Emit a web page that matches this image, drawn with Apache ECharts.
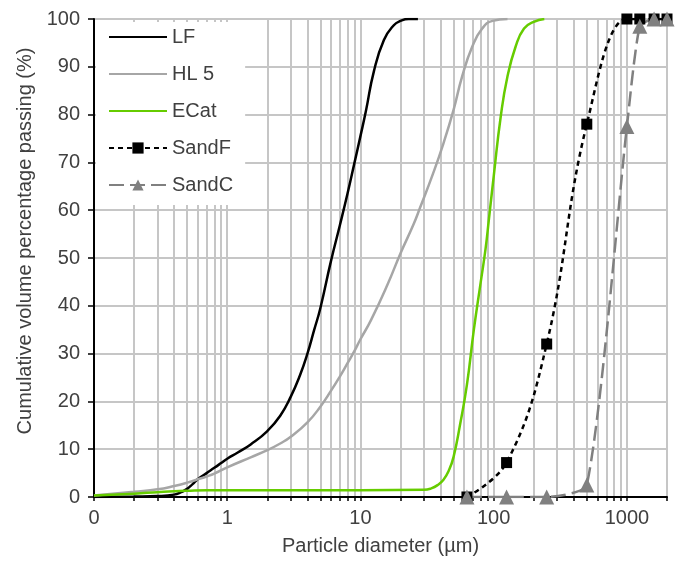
<!DOCTYPE html>
<html>
<head>
<meta charset="utf-8">
<script src="https://cdn.jsdelivr.net/npm/echarts@6/dist/echarts.min.js"></script>
<style>
html,body{margin:0;padding:0;background:#fff;}
#chart{width:678px;height:564px;}
</style>
</head>
<body>
<div id="chart"></div>
<script>
// ---- data ----
const lfX = [0.1,0.2,0.3,0.4,0.45,0.5,0.55,0.6,0.7,0.8,0.9,1,1.2,1.5,2,2.5,3,3.5,4,4.5,5,6,7,8,9,10,11,12.6,15,17.8,20,23,27];
const lfY = [0,0.1,0.2,0.5,1.0,1.7,2.7,3.7,5.0,6.1,7.1,8.0,9.3,11,13.8,17,21,25.3,30,35,39.5,49.3,56.8,63.5,69.8,75.5,80.8,89,95.6,98.7,99.6,100,100];

const hlX = [0.1,0.2,0.3,0.4,0.5,0.6,0.7,0.8,1,1.5,2,2.5,3,4,5,6,7,8,9,10,12,16,20,25,28,35,42,50,58,69,82,98,127];
const hlY = [0.3,1.1,1.6,2.3,3.0,3.7,4.3,4.9,6.2,8.3,9.8,11.2,12.6,15.6,18.9,22.2,25.2,28,30.5,33,37,44.5,51,57,60.5,67.6,74,81,88,94.2,98,99.6,100];

const ecX = [0.1,0.2,0.3,0.4,0.5,0.7,1,3,10,30,34,38,42,46,50,56,63,71,80,87,92,100,113,127,146,169,200,240];
const ecY = [0.3,0.7,1.0,1.2,1.3,1.4,1.4,1.4,1.4,1.5,1.8,2.5,3.6,5.5,8.4,15.2,23.5,35,45,52,58,67,79.6,88,94.2,98,99.4,100];

const sieveX = [63,125,250,500,1000,1250,1600,2000];
const sandFY = [0,7.2,32,78,100,100,100,100];
const sandCY = [0,0,0,2.5,77.5,98.5,100,100];

const seriesNames = ['LF','HL 5','ECat','SandF','SandC'];
const xMajorLabels = [0.1,1,10,100,1000];

// gridline / tick positions on the log axis (1..9 x 10^k within range)
const xGridVals = [];
for (let e = -1; e <= 3; e++) {
  for (let m = 1; m <= 9; m++) {
    const v = +(m * Math.pow(10, e)).toPrecision(3);
    if (v >= 0.1 && v <= 2000) xGridVals.push(v);
  }
}

const zip = (xs, ys) => xs.map((x, i) => [x, ys[i]]);
const txt = '#404040';
const font = 'Liberation Sans, Arial, sans-serif';
const noSym = { opacity: 0 };

const chart = echarts.init(document.getElementById('chart'));
chart.setOption({
  animation: false,
  backgroundColor: '#ffffff',
  textStyle: { fontFamily: font },
  grid: { left: 94, right: 11, top: 19, bottom: 67 },
  legend: {
    data: [
      { name: seriesNames[0], itemStyle: noSym },
      { name: seriesNames[1], itemStyle: noSym },
      { name: seriesNames[2], itemStyle: noSym },
      { name: seriesNames[3] },
      { name: seriesNames[4] }
    ],
    orient: 'vertical',
    left: 96, top: 22,
    padding: [5, 12, 10, 12],
    itemGap: 17,
    itemWidth: 58,
    itemHeight: 14,
    backgroundColor: '#ffffff',
    textStyle: { fontSize: 20, color: txt, fontFamily: font },
    selectedMode: false
  },
  xAxis: {
    type: 'log',
    logBase: 10,
    min: 0.1, max: 2000,
    name: 'Particle diameter (µm)',
    nameLocation: 'middle',
    nameGap: 39,
    nameTextStyle: { fontSize: 20, color: txt, fontFamily: font },
    axisLine: { show: true, onZero: false, lineStyle: { color: '#000', width: 2 } },
    axisTick: { show: true, inside: false, length: 4, customValues: xGridVals, lineStyle: { color: '#000', width: 1.5 } },
    axisLabel: {
      customValues: xMajorLabels,
      fontSize: 20, color: txt, margin: 11, fontFamily: font,
      formatter: v => (v < 0.5 ? '0' : String(Math.round(v)))
    },
    splitLine: { show: true, lineStyle: { color: '#c6c6c6', width: 2 } },
    minorTick: { show: false },
    minorSplitLine: { show: false }
  },
  yAxis: {
    type: 'value',
    min: 0, max: 100, interval: 10,
    name: 'Cumulative volume percentage passing (%)',
    nameLocation: 'middle',
    nameGap: 58,
    nameRotate: 90,
    nameTextStyle: { fontSize: 20, color: txt, fontFamily: font, padding: [0, 0, 0, 34] },
    axisLine: { show: true, lineStyle: { color: '#000', width: 2 } },
    axisTick: { show: true, length: 6, lineStyle: { color: '#000', width: 1.5 } },
    axisLabel: { fontSize: 20, color: txt, margin: 14, fontFamily: font },
    splitLine: { show: true, lineStyle: { color: '#c6c6c6', width: 2 } }
  },
  series: [
    {
      name: 'LF', type: 'line', data: zip(lfX, lfY), smooth: 0.5,
      symbol: 'none', lineStyle: { color: '#000000', width: 2.5 }, itemStyle: { color: '#000000' }
    },
    {
      name: 'HL 5', type: 'line', data: zip(hlX, hlY), smooth: 0.5,
      symbol: 'none', lineStyle: { color: '#a6a6a6', width: 2.5 }, itemStyle: { color: '#a6a6a6' }
    },
    {
      name: 'ECat', type: 'line', data: zip(ecX, ecY), smooth: 0.5,
      symbol: 'none', lineStyle: { color: '#66cc00', width: 2.5 }, itemStyle: { color: '#66cc00' }
    },
    {
      name: 'SandF', type: 'line', data: zip(sieveX, sandFY), smooth: 0.4,
      symbol: 'rect', symbolSize: 11, showAllSymbol: true,
      lineStyle: { color: '#000000', width: 2.5, type: [5, 4] }, itemStyle: { color: '#000000' }
    },
    {
      name: 'SandC', type: 'line', data: zip(sieveX, sandCY), smooth: 0.2,
      symbol: 'triangle', symbolSize: 15, showAllSymbol: true,
      lineStyle: { color: '#808080', width: 2.5, type: [15, 6] }, itemStyle: { color: '#808080' }
    }
  ]
});
</script>
</body>
</html>
